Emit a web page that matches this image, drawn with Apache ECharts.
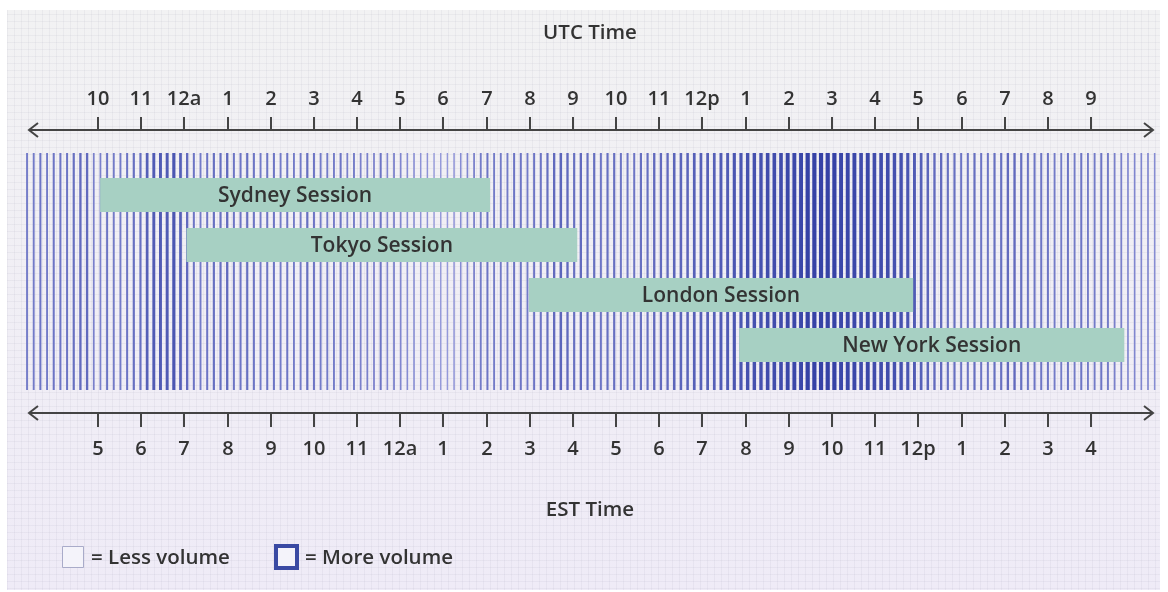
<!DOCTYPE html>
<html><head><meta charset="utf-8">
<script src="https://cdn.jsdelivr.net/npm/echarts@6/dist/echarts.min.js"></script>
<style>html,body{margin:0;padding:0;background:#fff}#c{width:1168px;height:592px}</style>
</head><body><div id="c"></div>
<script>
// hour offsets from UTC 10 pm
const hours = [0,1,2,3,4,5,6,7,8,9,10,11,12,13,14,15,16,17,18,19,20,21,22,23];
const utcLabels = ['10','11','12a','1','2','3','4','5','6','7','8','9','10','11','12p','1','2','3','4','5','6','7','8','9'];
const estLabels = ['5','6','7','8','9','10','11','12a','1','2','3','4','5','6','7','8','9','10','11','12p','1','2','3','4'];
const sessionNames = ['Sydney Session','Tokyo Session','London Session','New York Session'];
const sessionStart = [0.05, 2.05, 9.98, 14.85];
const sessionEnd = [9.08, 11.1, 18.88, 23.77];
// relative volume per stripe (0 = light, 1 = dark)
const volume = [
 0.45,0.45,0.5,0.45,0.5,0.5,0.5,0.55,0.6,0.6,0.4,0.4,0.5,0.45,0.45,0.5,0.55,0.55,0.7,0.75,0.75,0.75,0.8,0.7,0.6,0.5,0.45,0.5,0.55,0.55,0.6,0.5,0.5,0.55,0.5,0.45,0.5,0.5,0.45,0.5,0.45,0.45,0.55,
 0.5,0.45,0.45,0.45,0.5,0.4,0.45,0.4,0.4,0.4,0.5,0.35,0.4,0.35,0.3,0.3,0.25,0.25,0.2,0.2,0.2,0.25,0.3,0.35,0.4,0.45,0.5,0.45,0.45,0.45,0.5,0.5,0.45,0.5,0.5,0.55,0.6,0.65,0.6,0.55,0.6,0.55,
 0.55,0.5,0.55,0.55,0.5,0.5,0.5,0.55,0.55,0.6,0.6,0.6,0.65,0.65,0.65,0.7,0.7,0.7,0.7,0.75,0.75,0.8,0.8,0.85,0.85,0.85,0.9,0.9,0.9,0.95,0.95,0.95,1,1,1,1,1,0.95,0.95,0.95,0.9,
 0.95,0.9,0.9,0.9,0.85,0.85,0.8,0.75,0.7,0.65,0.6,0.6,0.55,0.55,0.5,0.5,0.55,0.5,0.5,0.55,0.55,0.6,0.6,0.55,0.5,0.5,0.5,0.5,0.45,0.45,0.5,0.45,0.5,0.45,0.45,0.5,0.45,0.4,0.4,0.35,0.35,0.35,0.35,0.3
];

const FONT = '"Open Sans", Lato, sans-serif';
const TXT = '#333333';
const lightRGB = [184, 186, 238], darkRGB = [54, 66, 166];
function stripeColor(v){
  const t = Math.pow(v, 0.8);
  const c = lightRGB.map((l,k)=>Math.round(l + (darkRGB[k]-l)*t));
  return 'rgb(' + c.join(',') + ')';
}

const pc = document.createElement('canvas'); pc.width = 7; pc.height = 7;
const pctx = pc.getContext('2d');
pctx.fillStyle = 'rgba(110,110,140,0.07)';
pctx.fillRect(0,0,7,1); pctx.fillRect(0,0,1,7);

const chart = echarts.init(document.getElementById('c'), null, {renderer:'canvas'});
const TOP_LINE = 130, BOT_LINE = 413;

chart.setOption({
  animation: false,
  backgroundColor: '#ffffff',
  grid: {left: 23.7, right: 10, top: 153, bottom: 202},
  xAxis: [
    {type:'category', data: volume.map((v,i)=>i), show:false, boundaryGap:true},
    {type:'value', min:-1.72, max:24.55, show:false}
  ],
  yAxis: [{type:'value', min:0, max:237, inverse:true, show:false}],
  graphic: [
    {type:'rect', z:-10, shape:{x:7,y:10,width:1153,height:580},
     style:{fill:{type:'linear',x:0,y:0,x2:0,y2:1,colorStops:[{offset:0,color:'#f2f2f3'},{offset:1,color:'#efebf7'}]}}},
    {type:'rect', z:-9, shape:{x:7,y:10,width:1153,height:580}, style:{fill:{image:pc, repeat:'repeat'}}},
    {type:'text', x:590, y:33, style:{text:'UTC Time', font:'600 20.5px '+FONT, fill:TXT, align:'center', verticalAlign:'middle'}},
    {type:'text', x:590, y:510, style:{text:'EST Time', font:'600 20.5px '+FONT, fill:TXT, align:'center', verticalAlign:'middle'}},
    {type:'line', shape:{x1:29,y1:TOP_LINE,x2:1153,y2:TOP_LINE}, style:{stroke:'#444',lineWidth:2}},
    {type:'polyline', shape:{points:[[38,123],[29,TOP_LINE],[38,137]]}, style:{stroke:'#444',lineWidth:2,fill:null}},
    {type:'polyline', shape:{points:[[1144,123],[1153,TOP_LINE],[1144,137]]}, style:{stroke:'#444',lineWidth:2,fill:null}},
    {type:'line', shape:{x1:29,y1:BOT_LINE,x2:1153,y2:BOT_LINE}, style:{stroke:'#444',lineWidth:2}},
    {type:'polyline', shape:{points:[[38,406],[29,BOT_LINE],[38,420]]}, style:{stroke:'#444',lineWidth:2,fill:null}},
    {type:'polyline', shape:{points:[[1144,406],[1153,BOT_LINE],[1144,420]]}, style:{stroke:'#444',lineWidth:2,fill:null}},
    {type:'rect', shape:{x:62.5,y:546.5,width:21,height:21}, style:{fill:'#f4f3fa',stroke:'#a9abc9',lineWidth:1}},
    {type:'text', x:91, y:558, style:{text:'= Less volume', font:'600 20.5px '+FONT, fill:TXT, verticalAlign:'middle'}},
    {type:'rect', shape:{x:276,y:546,width:21,height:22}, style:{fill:'#f4f3fa',stroke:'#3a4aa3',lineWidth:4}},
    {type:'text', x:305, y:558, style:{text:'= More volume', font:'600 20.5px '+FONT, fill:TXT, verticalAlign:'middle'}}
  ],
  series: [
    {
      type:'custom', xAxisIndex:0, yAxisIndex:0, clip:false, z:2,
      data: volume.map((v,i)=>[i,v]),
      renderItem: function(params, api){
        const v = api.value(1);
        const top = api.coord([api.value(0), 0]);
        const bot = api.coord([api.value(0), 237]);
        const w = 1.3 + 2.9*v*v;
        return {type:'rect', shape:{x:top[0]-w/2, y:top[1], width:w, height:bot[1]-top[1]},
                style:{fill:stripeColor(v)}};
      }
    },
    {
      type:'custom', xAxisIndex:1, yAxisIndex:0, clip:false, z:3,
      data: sessionNames.map((n,i)=>[sessionStart[i], sessionEnd[i], i]),
      renderItem: function(params, api){
        const row = api.value(2);
        const yc = 42 + 50*row;
        const p0 = api.coord([api.value(0), yc]);
        const p1 = api.coord([api.value(1), yc]);
        const h = api.size([0, 34])[1];
        return {type:'group', children:[
          {type:'rect', shape:{x:p0[0], y:p0[1]-h/2, width:p1[0]-p0[0], height:h}, style:{fill:'#a7d0c3'}},
          {type:'text', style:{text:sessionNames[params.dataIndex], x:(p0[0]+p1[0])/2, y:p0[1]+1,
            align:'center', verticalAlign:'middle', font:'600 21px '+FONT, fill:TXT}}
        ]};
      }
    },
    {
      type:'custom', xAxisIndex:1, yAxisIndex:0, clip:false, z:4,
      data: hours.map(h=>[h]),
      renderItem: function(params, api){
        const x = Math.round(api.coord([api.value(0), 0])[0]);
        const i = params.dataIndex;
        return {type:'group', children:[
          {type:'line', shape:{x1:x,y1:117,x2:x,y2:TOP_LINE}, style:{stroke:'#444',lineWidth:2}},
          {type:'line', shape:{x1:x,y1:BOT_LINE,x2:x,y2:427}, style:{stroke:'#444',lineWidth:2}},
          {type:'text', style:{text:utcLabels[i], x:x, y:99, align:'center', verticalAlign:'middle', font:'600 20px '+FONT, fill:TXT}},
          {type:'text', style:{text:estLabels[i], x:x, y:449, align:'center', verticalAlign:'middle', font:'600 20px '+FONT, fill:TXT}}
        ]};
      }
    }
  ]
});
</script></body></html>
